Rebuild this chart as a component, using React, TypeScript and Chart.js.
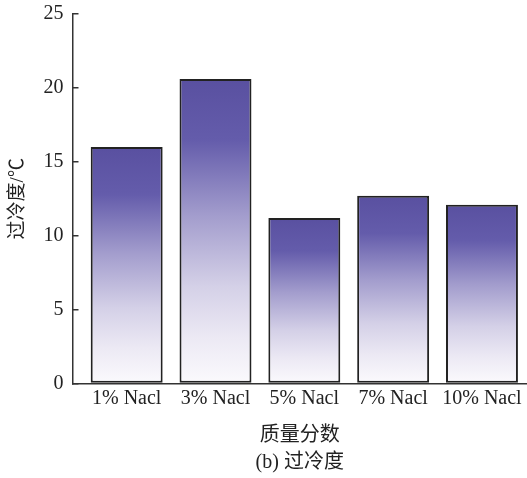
import React, { useEffect, useRef } from "react";
import { Chart, registerables } from "chart.js";

Chart.register(...registerables);

const categories = ["1% Nacl", "3% Nacl", "5% Nacl", "7% Nacl", "10% Nacl"];
const supercooling = [16.0, 20.6, 11.2, 12.7, 12.1];
const yTicks = [0, 5, 10, 15, 20, 25];
const xTitle = "质量分数";
const yTitle = "过冷度/℃";
const caption = "(b) 过冷度";

const SERIF = "'Liberation Serif', 'Noto Sans CJK SC', serif";

export default function App() {
  const ref = useRef<HTMLCanvasElement | null>(null);

  useEffect(() => {
    document.body.style.margin = "0";
    const canvas = ref.current;
    if (!canvas) return;

    const gradientFor = (c: any) => {
      const chart = c.chart;
      const y = chart.scales && chart.scales.y;
      if (!y || !c.parsed) return "#8a83c0";
      const top = y.getPixelForValue(c.parsed.y);
      const bottom = y.getPixelForValue(0);
      if (!isFinite(top) || !isFinite(bottom) || top === bottom) return "#8a83c0";
      const g = chart.ctx.createLinearGradient(0, top, 0, bottom);
      g.addColorStop(0, "#5950a0");
      g.addColorStop(0.2, "#645cab");
      g.addColorStop(0.45, "#a39dcd");
      g.addColorStop(0.68, "#d4d0e7");
      g.addColorStop(0.85, "#ece9f4");
      g.addColorStop(1, "#fbfafd");
      return g;
    };

    const chart = new Chart(canvas, {
      type: "bar",
      data: {
        datasets: [
          {
            data: supercooling.map((v, i) => ({ x: i, y: v })),
            backgroundColor: gradientFor,
            borderColor: "#222",
            borderWidth: 2,
            borderSkipped: false,
            barPercentage: 0.81,
            categoryPercentage: 1,
          },
        ],
      },
      options: {
        responsive: false,
        animation: false,
        devicePixelRatio: 1,
        layout: { padding: { top: 14, left: 0, right: 0, bottom: 0 } },
        plugins: {
          legend: { display: false },
          tooltip: { enabled: false },
          title: {
            display: true,
            text: caption,
            position: "bottom",
            fullSize: false,
            color: "#222",
            font: { family: SERIF, size: 20, weight: "normal" },
            padding: { top: 0, bottom: 3 },
          },
        },
        scales: {
          x: {
            type: "linear",
            min: -0.61,
            max: 4.507,
            offset: false,
            grid: { display: false, drawTicks: false },
            border: { display: true, color: "#333", width: 1.5 },
            ticks: {
              stepSize: 1,
              includeBounds: false,
              autoSkip: false,
              maxRotation: 0,
              minRotation: 0,
              padding: 3,
              color: "#222",
              font: { family: SERIF, size: 20 },
              callback: (v: any) =>
                Number.isInteger(v) && categories[v] !== undefined ? categories[v] : "",
            },
            title: {
              display: true,
              text: xTitle,
              color: "#222",
              font: { family: SERIF, size: 20 },
              padding: { top: 0, bottom: 3 },
            },
            afterFit: (s: any) => {
              s.height = 67.5;
              s.paddingLeft = 0;
              s.paddingRight = 0;
            },
          },
          y: {
            min: 0,
            max: 25,
            afterBuildTicks: (s: any) => {
              s.ticks = yTicks.map((v) => ({ value: v }));
            },
            grid: {
              display: true,
              drawOnChartArea: false,
              drawTicks: true,
              tickLength: -6,
              color: "#333",
              lineWidth: 1.5,
            },
            border: { display: true, color: "#333", width: 1.5 },
            ticks: {
              padding: 15,
              color: "#222",
              font: { family: SERIF, size: 20 },
            },
            title: {
              display: true,
              text: yTitle,
              color: "#222",
              font: { family: SERIF, size: 19 },
              padding: { top: 7, bottom: 0 },
            },
            afterFit: (s: any) => {
              s.width = 72.5;
              s.paddingTop = 0;
              s.paddingBottom = 0;
            },
          },
        },
      },
    });

    return () => chart.destroy();
  }, []);

  return <canvas ref={ref} width={527} height={478} style={{ display: "block", width: 527, height: 478 }} />;
}
